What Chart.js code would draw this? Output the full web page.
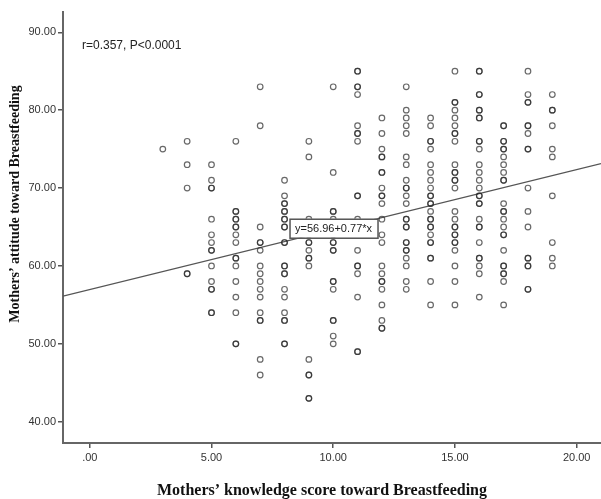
<!DOCTYPE html>
<html>
<head>
<meta charset="utf-8">
<script src="https://cdn.jsdelivr.net/npm/chart.js@4"></script>
<style>
  html, body { margin: 0; padding: 0; background: #fff; }
  #wrap { width: 601px; height: 499px; position: relative; }
</style>
</head>
<body>
<div id="wrap"><canvas id="myChart"></canvas></div>
<script>
// knowledge score (x) and the attitude scores seen in that column
const knowledgeScores = [3, 4, 5, 6, 7, 8, 9, 10, 11, 12, 13, 14, 15, 16, 17, 18, 19];
const attitudeScores = [
  [75],
  [76, 73, 70, 59, 59],
  [73, 71, 70, 70, 66, 64, 63, 62, 62, 60, 58, 57, 57, 54, 54],
  [76, 67, 67, 66, 66, 65, 65, 64, 63, 61, 61, 60, 58, 56, 54, 50, 50],
  [83, 78, 65, 63, 63, 62, 60, 59, 58, 57, 56, 54, 53, 53, 48, 46],
  [71, 69, 68, 68, 67, 67, 66, 66, 65, 65, 63, 63, 60, 60, 59, 59, 57, 56, 54, 53, 53, 50, 50],
  [76, 74, 66, 64, 63, 63, 62, 61, 61, 60, 48, 46, 46, 43, 43],
  [83, 72, 67, 67, 66, 64, 63, 63, 62, 62, 58, 58, 57, 53, 53, 51, 50],
  [85, 85, 83, 83, 82, 78, 77, 77, 76, 69, 69, 66, 62, 60, 60, 59, 56, 49, 49],
  [79, 77, 75, 74, 74, 72, 72, 70, 69, 69, 68, 66, 64, 63, 60, 59, 58, 58, 57, 55, 53, 52, 52],
  [83, 80, 79, 78, 77, 74, 73, 71, 70, 70, 69, 68, 66, 66, 65, 65, 63, 63, 62, 62, 61, 60, 58, 57],
  [79, 78, 76, 76, 75, 73, 72, 71, 70, 69, 69, 68, 68, 67, 66, 66, 65, 65, 64, 63, 63, 61, 61, 58, 55],
  [85, 81, 81, 80, 79, 78, 77, 77, 76, 73, 72, 72, 71, 71, 70, 67, 66, 65, 65, 64, 64, 63, 63, 62, 60, 58, 55],
  [85, 85, 82, 82, 80, 80, 79, 79, 76, 76, 75, 73, 72, 71, 70, 69, 69, 68, 68, 66, 65, 65, 63, 61, 61, 60, 59, 56],
  [78, 78, 76, 76, 75, 75, 74, 73, 72, 71, 71, 68, 67, 67, 66, 65, 64, 64, 62, 60, 60, 59, 59, 58, 55],
  [85, 82, 81, 81, 78, 78, 77, 75, 75, 70, 67, 65, 61, 61, 60, 60, 57, 57],
  [82, 80, 80, 78, 75, 74, 69, 63, 61, 60]
];
const xTicks = [0, 5, 10, 15, 20];
const yTicks = [40, 50, 60, 70, 80, 90];
const fitIntercept = 56.96;
const fitSlope = 0.77;
const fitLabel = "y=56.96+0.77*x";
const statsLabel = "r=0.357, P<0.0001";
const xTitle = "Mothers\u2019 knowledge score toward Breastfeeding";
const yTitle = "Mothers\u2019 attitude toward Breastfeeding";

const xMin = -1.1, xMax = 21;
const yMin = 37.27, yMax = 92.6;

const points = [];
knowledgeScores.forEach((k, i) => {
  attitudeScores[i].forEach(a => points.push({x: k, y: a}));
});

const extras = {
  id: 'extras',
  afterDatasetsDraw(chart) {
    const ctx = chart.ctx;
    const xs = chart.scales.x, ys = chart.scales.y;
    ctx.save();
    // equation box, top-right corner sits on the fit line
    const ax = 11.82;
    const px = xs.getPixelForValue(ax);
    const py = ys.getPixelForValue(fitIntercept + fitSlope * ax);
    const w = 88, h = 19;
    ctx.fillStyle = '#fff';
    ctx.fillRect(px - w, py, w, h);
    ctx.strokeStyle = '#555';
    ctx.lineWidth = 1.5;
    ctx.strokeRect(px - w + 0.5, py + 0.5, w, h);
    ctx.fillStyle = '#222';
    ctx.font = '11px "Liberation Sans", Arial, sans-serif';
    ctx.textAlign = 'center';
    ctx.textBaseline = 'middle';
    ctx.fillText(fitLabel, px - w / 2, py + h / 2 + 1);

    // r and p
    ctx.textAlign = 'left';
    ctx.font = '12px "Liberation Sans", Arial, sans-serif';
    ctx.fillText(statsLabel, 82, 46);

    // axis titles
    ctx.fillStyle = '#111';
    ctx.textAlign = 'center';
    ctx.font = 'bold 16px "Liberation Serif", "Times New Roman", serif';
    ctx.fillText(xTitle, 322, 491);
    ctx.font = 'bold 14px "Liberation Serif", "Times New Roman", serif';
    ctx.translate(15, 204);
    ctx.rotate(-Math.PI / 2);
    ctx.fillText(yTitle, 0, 0);
    ctx.restore();
  }
};

new Chart(document.getElementById('myChart').getContext('2d'), {
  type: 'scatter',
  data: {
    datasets: [{
      data: points,
      pointStyle: 'circle',
      pointRadius: 2.8,
      pointBorderWidth: 1.2,
      pointBackgroundColor: 'rgba(0,0,0,0)',
      pointBorderColor: 'rgba(40,40,40,0.7)',
      showLine: false,
      order: 1
    }, {
      type: 'line',
      data: [
        {x: xMin, y: fitIntercept + fitSlope * xMin},
        {x: xMax, y: fitIntercept + fitSlope * xMax}
      ],
      borderColor: '#555',
      borderWidth: 1.2,
      pointRadius: 0,
      fill: false,
      order: 2
    }]
  },
  options: {
    responsive: true,
    maintainAspectRatio: false,
    animation: false,
    layout: { autoPadding: false, padding: { top: 12, right: 0, left: 0, bottom: 0 } },
    plugins: { legend: { display: false }, tooltip: { enabled: false } },
    scales: {
      x: {
        type: 'linear',
        min: xMin,
        max: xMax,
        afterBuildTicks: s => { s.ticks = xTicks.map(v => ({value: v})); },
        afterFit: s => { s.height = 56; s.paddingLeft = 0; s.paddingRight = 0; },
        grid: { drawOnChartArea: false, drawTicks: true, tickLength: 5, color: '#555', lineWidth: 1.5 },
        border: { color: '#666', width: 2 },
        ticks: {
          color: '#333',
          padding: 3,
          font: { family: '"Liberation Sans", Arial, sans-serif', size: 11 },
          callback: v => v === 0 ? '.00' : v.toFixed(2)
        }
      },
      y: {
        type: 'linear',
        min: yMin,
        max: yMax,
        afterBuildTicks: s => { s.ticks = yTicks.map(v => ({value: v})); },
        afterFit: s => { s.width = 63; s.paddingTop = 0; s.paddingBottom = 0; },
        grid: { drawOnChartArea: false, drawTicks: true, tickLength: 5, color: '#555', lineWidth: 1.5 },
        border: { color: '#666', width: 2 },
        ticks: {
          color: '#333',
          padding: 2,
          font: { family: '"Liberation Sans", Arial, sans-serif', size: 11 },
          callback: v => v.toFixed(2)
        }
      }
    }
  },
  plugins: [extras]
});
</script>
</body>
</html>
